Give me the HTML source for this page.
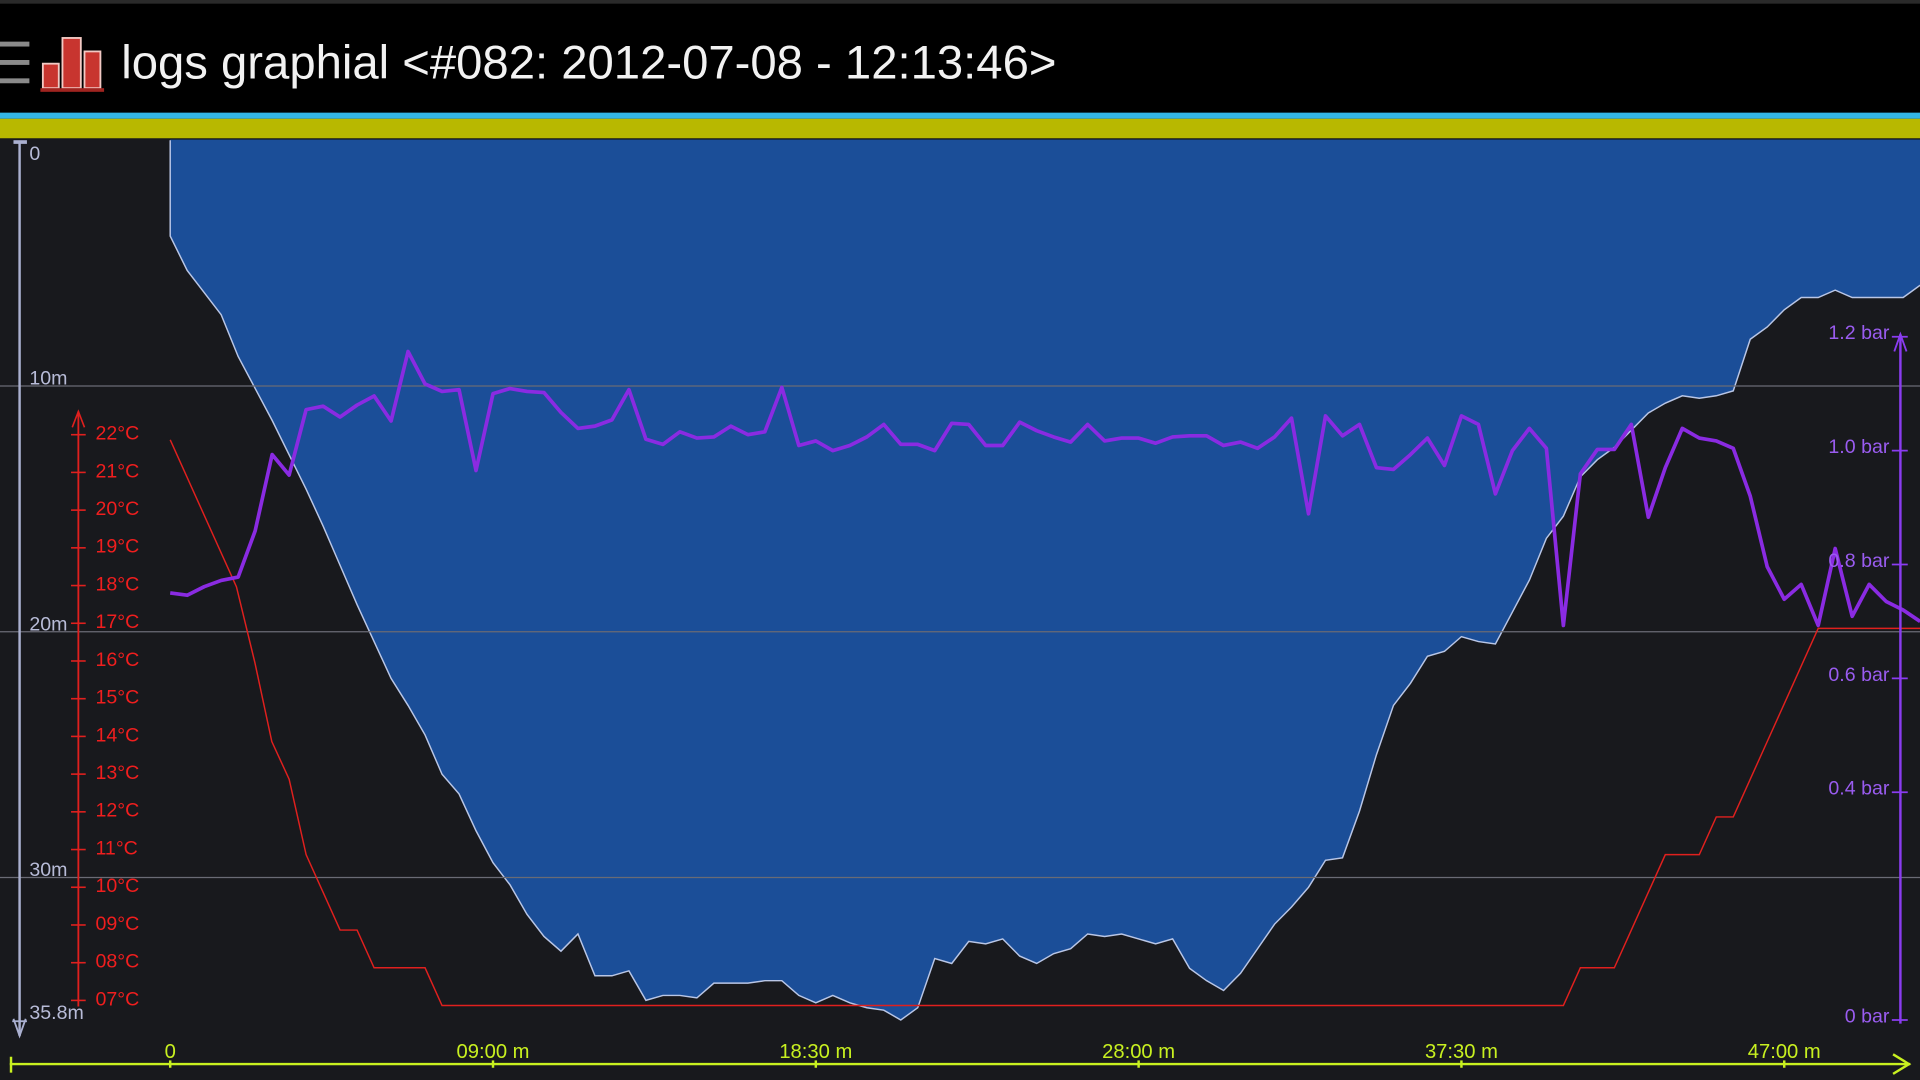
<!DOCTYPE html>
<html><head><meta charset="utf-8"><style>
html,body{margin:0;padding:0;background:#000;overflow:hidden}
svg{display:block}
text{font-family:"Liberation Sans",sans-serif}
</style></head><body>
<svg id="chart" width="1920" height="1080" viewBox="0 0 1568 882" preserveAspectRatio="none" xmlns="http://www.w3.org/2000/svg">
<rect x="0" y="0" width="1568" height="882" fill="#000"/>
<rect x="0" y="0" width="1568" height="3" fill="#2a2a2a"/>
<g>
<rect x="0" y="34" width="24" height="4" fill="#8a8a8a"/><rect x="0" y="49" width="24" height="4" fill="#8a8a8a"/><rect x="0" y="64" width="24" height="4" fill="#8a8a8a"/>
</g>
<g>
<rect x="35" y="52" width="13" height="20" fill="#c8352f" stroke="#f2c9c4" stroke-width="1.5"/>
<rect x="51" y="31" width="15" height="41" fill="#c8352f" stroke="#f2c9c4" stroke-width="1.5"/>
<rect x="69" y="42" width="13" height="30" fill="#c8352f" stroke="#f2c9c4" stroke-width="1.5"/>
<rect x="33" y="72" width="52" height="3" fill="#a02420"/>
</g>
<text x="99" y="64" font-size="38.6" fill="#f2f2f2">logs graphial &lt;#082: 2012-07-08 - 12:13:46&gt;</text>
<rect x="0" y="92" width="1568" height="5" fill="#33b5e5"/>
<rect x="0" y="97" width="1568" height="16" fill="#b8b800"/>
<rect x="0" y="113" width="1568" height="769" fill="#18191d"/>
<g id="area"></g>
<g id="grid"></g>
<g id="temp"></g>
<g id="press"></g>
<g id="axes"></g>
</svg>
<script>
const NS="http://www.w3.org/2000/svg";
// depth samples every 0.5 min (m)
const depths=[3.9,5.3,6.2,7.1,8.8,10.1,11.4,12.8,14.2,15.7,17.3,18.9,20.4,21.9,23.0,24.2,25.8,26.6,28.1,29.4,30.3,31.5,32.4,33.0,32.3,34.0,34.0,33.8,35.0,34.8,34.8,34.9,34.3,34.3,34.3,34.2,34.2,34.8,35.1,34.8,35.1,35.3,35.4,35.8,35.3,33.3,33.5,32.6,32.7,32.5,33.2,33.5,33.1,32.9,32.3,32.4,32.3,32.5,32.7,32.5,33.7,34.2,34.6,33.9,32.9,31.9,31.2,30.4,29.3,29.2,27.3,25.0,23.0,22.1,21.0,20.8,20.2,20.4,20.5,19.2,17.9,16.2,15.3,13.7,13.0,12.5,11.8,11.1,10.7,10.4,10.5,10.4,10.2,8.1,7.6,6.9,6.4,6.4,6.1,6.4,6.4,6.4,6.4,5.9];
// pressure samples every 0.5 min (bar)
const pressures=[0.750,0.746,0.761,0.772,0.778,0.859,0.993,0.957,1.072,1.078,1.059,1.080,1.096,1.052,1.174,1.117,1.104,1.107,0.965,1.100,1.109,1.104,1.102,1.067,1.039,1.043,1.054,1.107,1.020,1.011,1.033,1.022,1.024,1.043,1.028,1.033,1.111,1.009,1.017,1.000,1.009,1.024,1.046,1.011,1.011,1.000,1.048,1.046,1.009,1.009,1.050,1.035,1.024,1.015,1.046,1.017,1.022,1.022,1.013,1.024,1.026,1.026,1.009,1.015,1.004,1.024,1.057,0.889,1.061,1.026,1.046,0.970,0.967,0.993,1.022,0.974,1.061,1.046,0.924,1.000,1.039,1.004,0.693,0.959,1.002,1.002,1.046,0.883,0.970,1.039,1.022,1.017,1.004,0.920,0.796,0.739,0.765,0.693,0.828,0.709,0.765,0.735,0.720,0.700];
// temperature (min, °C)
const tempTimes=[0,1.95,2.49,2.99,3.5,4.0,4.5,5.0,5.5,6.0,7.5,8.0,41.0,41.5,42.5,43.0,43.5,44.0,45.0,45.5,46.0,46.5,47.0,47.5,48.0,48.5,51.5];
const temps=[21.8,17.9,15.9,13.8,12.8,10.8,9.8,8.8,8.8,7.8,7.8,6.8,6.8,7.8,7.8,8.8,9.8,10.8,10.8,11.8,11.8,12.8,13.8,14.8,15.8,16.8,16.8];
const timeTicks=[0,9.5,19,28.5,38,47.5];
const timeLabels=["0","09:00 m","18:30 m","28:00 m","37:30 m","47:00 m"];
const depthTicks=[0,10,20,30,35.8];
const depthLabels=["0","10m","20m","30m","35.8m"];
const tempTicks=[22,21,20,19,18,17,16,15,14,13,12,11,10,9,8,7];
const pressTicks=[1.2,1.0,0.8,0.6,0.4,0];
const pressLabels=["1.2 bar","1.0 bar","0.8 bar","0.6 bar","0.4 bar","0 bar"];

const X=t=>139+t*27.75;
const YD=d=>114.5+d*20.07;
const YT=c=>353+(22-c)*30.8;
const YP=p=>833-p*465;
function mk(tag,attrs,parent,txt){const e=document.createElementNS(NS,tag);for(const k in attrs)e.setAttribute(k,attrs[k]);if(txt!==undefined)e.textContent=txt;parent.appendChild(e);return e;}
const gA=document.getElementById('area'),gG=document.getElementById('grid'),gT=document.getElementById('temp'),gP=document.getElementById('press'),gX=document.getElementById('axes');

let pts=[[X(0),YD(0)]];
depths.forEach((d,i)=>pts.push([X(i*0.5),YD(d)]));
let poly=pts.map(p=>p.join(',')).join(' ')+` ${X((depths.length-1)*0.5)},114 139,114`;
let a=mk('polygon',{points:poly,fill:'#1b4e98'},gA);


let al=mk('polyline',{points:pts.map(p=>p.join(',')).join(' '),fill:'none',stroke:'#b9c6e6','stroke-width':1.2},gA);



[10,20,30].forEach(d=>{let l=mk('line',{x1:0,x2:1568,y1:YD(d),y2:YD(d),stroke:'#6a6b75','stroke-width':1},gG);

});

let tl=mk('polyline',{points:tempTimes.map((t,i)=>X(t)+','+YT(temps[i])).join(' '),fill:'none',stroke:'#e0201e','stroke-width':1.2},gT);



let pl=mk('polyline',{points:pressures.map((p,i)=>X(i*0.5)+','+YP(p)).join(' '),fill:'none',stroke:'#8a2be2','stroke-width':3,'stroke-linejoin':'round'},gP);



let da=mk('g',{},gX);


mk('line',{x1:16,y1:115,x2:16,y2:846,stroke:'#aab0d0','stroke-width':2},da);
mk('line',{x1:11,y1:116,x2:22,y2:116,stroke:'#aab0d0','stroke-width':3},da);
mk('polyline',{points:'11,832 16,846 21,832',fill:'none',stroke:'#aab0d0','stroke-width':1.5},da);
mk('line',{x1:10,y1:834,x2:22,y2:834,stroke:'#aab0d0','stroke-width':1.5},da);
depthTicks.forEach((d,i)=>{let t=mk('text',{x:24,y:i==0?YD(d)+16:YD(d)-1,'font-size':16,fill:'#b8bcd8'},da,depthLabels[i]);

});

let ta=mk('g',{},gX);


mk('line',{x1:64,y1:336,x2:64,y2:822,stroke:'#e0201e','stroke-width':1.5},ta);
mk('polyline',{points:'59,349 64,336 69,349',fill:'none',stroke:'#e0201e','stroke-width':1.3},ta);
tempTicks.forEach(c=>{mk('line',{x1:58,x2:70,y1:YT(c)+2,y2:YT(c)+2,stroke:'#e0201e','stroke-width':1.3},ta);
let t=mk('text',{x:78,y:YT(c)+6,'font-size':16,fill:'#f01e1e'},ta,String(c).padStart(2,'0')+'°C');

});

let pa=mk('g',{},gX);


mk('line',{x1:1552,y1:273,x2:1552,y2:836,stroke:'#8a3cf0','stroke-width':2},pa);
mk('polyline',{points:'1547,287 1552,273 1557,287',fill:'none',stroke:'#8a3cf0','stroke-width':1.5},pa);
pressTicks.forEach((p,i)=>{mk('line',{x1:1545,x2:1558,y1:YP(p),y2:YP(p),stroke:'#8a3cf0','stroke-width':1.5},pa);
let t=mk('text',{x:1543,y:YP(p)+2,'font-size':16,fill:'#9a5cf0','text-anchor':'end'},pa,pressLabels[i]);

});

let xa=mk('g',{},gX);


mk('line',{x1:8,y1:869,x2:1560,y2:869,stroke:'#c8f020','stroke-width':2},xa);
mk('line',{x1:9,y1:863,x2:9,y2:876,stroke:'#c8f020','stroke-width':2},xa);
mk('polyline',{points:'1546,861 1559,869 1546,877',fill:'none',stroke:'#c8f020','stroke-width':2},xa);
timeTicks.forEach((t,i)=>{mk('line',{x1:X(t),x2:X(t),y1:866,y2:872,stroke:'#c8f020','stroke-width':2},xa);
let e=mk('text',{x:X(t),y:864,'font-size':16.5,fill:'#c8f020','text-anchor':'middle'},xa,timeLabels[i]);

});
</script>
</body></html>
